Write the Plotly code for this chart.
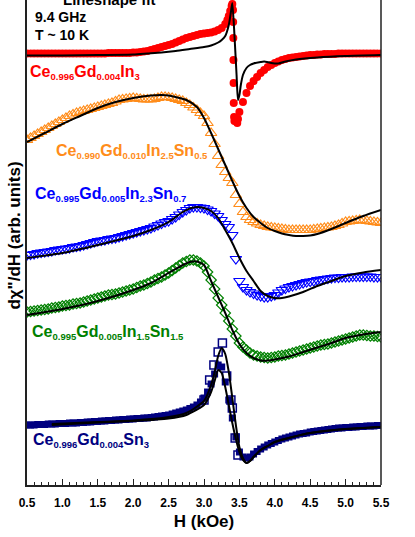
import plotly.graph_objects as go

# field sweep (kOe) shared by the dense data sets
field = [0.50, 0.55, 0.60, 0.65, 0.70, 0.75, 0.80, 0.85, 0.90, 0.95,
         1.00, 1.05, 1.10, 1.15, 1.20, 1.25, 1.30, 1.35, 1.40, 1.45,
         1.50, 1.55, 1.60, 1.65, 1.70, 1.75, 1.80, 1.85, 1.90, 1.95,
         2.00, 2.05, 2.10, 2.15, 2.20, 2.25, 2.30, 2.35, 2.40, 2.45,
         2.50, 2.55, 2.60, 2.65, 2.70, 2.75, 2.80, 2.85, 2.90, 2.95,
         3.00, 3.05, 3.10, 3.15, 3.20, 3.25, 3.30, 3.35, 3.40, 3.45,
         3.50, 3.55, 3.60, 3.65, 3.70, 3.75, 3.80, 3.85, 3.90, 3.95,
         4.00, 4.05, 4.10, 4.15, 4.20, 4.25, 4.30, 4.35, 4.40, 4.45,
         4.50, 4.55, 4.60, 4.65, 4.70, 4.75, 4.80, 4.85, 4.90, 4.95,
         5.00, 5.05, 5.10, 5.15, 5.20, 5.25, 5.30, 5.35, 5.40, 5.45,
         5.50]

# measured dX''/dH, vertically offset (arb. units)
in3 = [431.5, 431.5, 431.5, 431.5, 431.5, 431.5, 431.5, 431.5, 431.5, 431.5,
       431.5, 431.5, 431.5, 431.5, 431.5, 431.5, 431.5, 431.5, 431.5, 431.5,
       431.5, 431.5, 431.5, 432, 432, 432, 432, 432, 432, 432,
       432.5, 432.5, 433, 433.5, 434, 435, 436, 437, 438, 439,
       440, 441, 442.5, 444, 445.5, 447, 448, 449, 450, 451,
       451.5, 452, 452.5, 453.5, 455, 457, 461, 469, 481, 364,
       373, 383, 392, 399, 404, 408, 412, 415, 418, 420,
       422, 423.5, 425, 426, 427, 427.5, 428, 428.5, 429, 429.5,
       430, 430, 430.5, 430.5, 431, 431, 431, 431, 431.5, 431.5,
       431.5, 431.5, 431.5, 431.5, 431.5, 431.5, 431.5, 431.5, 431.5, 431.5,
       431.5]
in3_jump_h = [3.33, 3.37, 3.39, 3.41, 3.412, 3.414, 3.416, 3.418, 3.42, 3.425, 3.43, 3.47, 3.48]
in3_jump = [465, 474, 479, 475, 463, 447, 425, 402, 382, 368, 364, 362, 366]

sn05 = [345, 347, 349, 351, 353, 355, 357, 359, 361, 363,
        365, 367, 369, 370.5, 372, 373, 374, 375, 376, 377,
        378, 379, 380, 381, 382, 383.5, 385, 385.5, 386, 386.5,
        387, 386.5, 386, 385.5, 385.5, 385.5, 386, 387, 388, 388,
        387.5, 387, 386, 385, 384, 382, 380, 377.5, 375, 372,
        369, 362, 352, 341, 329, 320, 313, 307, 302, 290,
        281, 273, 268, 265, 263, 261.5, 260, 259, 258, 257.5,
        257, 256.5, 256, 255.5, 255, 255, 255, 255, 255, 255,
        255, 255.5, 256, 256.5, 257, 257.5, 258, 259, 260, 261.5,
        263, 263.5, 264, 264.5, 265, 264.5, 264, 263.5, 263, 262.5,
        262]

sn07 = [230, 230.5, 231, 232, 232.5, 233, 233.5, 234, 235, 235.5,
        236, 236.5, 237, 238, 238.5, 239, 240, 241, 242, 243,
        244, 244.5, 245, 246, 246.5, 247, 248, 249, 250, 251,
        252, 253, 254, 255, 256, 257, 258.5, 260, 261.5, 263,
        264, 266, 268, 270.5, 273, 275, 277, 278, 278, 277.5,
        277, 275.5, 274, 271.5, 269, 265, 261, 258, 250, 226,
        204, 198, 195, 193, 191.5, 190, 189, 188, 188, 189,
        190, 192.5, 195, 196.5, 198, 199, 200, 201, 202, 203,
        203.5, 204, 205, 205.5, 206, 206.5, 207, 207.5, 207.5, 208,
        208, 208, 208.5, 208.5, 208.5, 208.5, 208.5, 208.5, 208, 208,
        208]

sn15 = [173, 173.5, 174, 174.5, 175, 175.5, 176, 177, 177.5, 178,
        179, 179.5, 180, 181, 181.5, 182, 183, 184, 185, 186,
        187, 188, 189, 190, 190.5, 191, 192, 193, 194, 195,
        196, 197.5, 199, 200, 201.5, 203, 205, 206.5, 208, 210,
        212, 214.5, 217, 219.5, 222, 223.5, 225, 225, 224, 222,
        219, 213, 205, 196, 187, 180, 172, 164, 156, 149,
        142, 138, 135, 132, 130, 129, 128, 127.5, 127, 127.5,
        128, 129, 129.5, 130, 131, 132, 133, 134, 135, 136,
        137, 138, 139, 140, 140.5, 141, 142, 143, 144, 145,
        146, 147, 148, 149, 150, 150, 149.5, 149, 149, 148.5,
        148]

sn3 = [60, 60, 60, 60.5, 60.5, 60.5, 61, 61, 61, 61.5,
       61.5, 61.5, 62, 62, 62, 62.5, 62.5, 63, 63, 63.5,
       63.5, 64, 64, 64.5, 64.5, 65, 65, 65.5, 65.5, 66,
       66, 66.5, 66.5, 67, 67, 67.5, 68, 68.5, 69, 69.5,
       70, 71, 72, 73, 74, 75, 76.5, 78, 80, 83,
       87, 93, 101, 111, 120, 118, 103, 85, 67, 48,
       33, 28, 27, 28, 31, 33.5, 36, 38, 40, 41.5,
       43, 44.5, 46, 47, 48, 49, 50, 51, 51.5, 52,
       53, 53.5, 54, 54.5, 55, 55.5, 56, 56.5, 57, 57,
       57.5, 57.5, 58, 58, 58.5, 58.5, 59, 59, 59, 59.5,
       59.5]
sn3_open_h = [3.00, 3.08, 3.14, 3.20, 3.26, 3.32, 3.38, 3.40, 3.44, 3.48]
sn3_open = [85, 105, 120, 133, 142, 109, 85, 77, 47, 30]

# lineshape fits
fit_in3_h = [0.5, 1.0, 1.5, 2.0, 2.2, 2.4, 2.6, 2.8, 3.0, 3.1, 3.2, 3.25, 3.3, 3.35, 3.38,
             3.40, 3.43, 3.46, 3.48, 3.50, 3.52, 3.55, 3.60, 3.65, 3.70, 3.80, 3.85, 3.95,
             4.05, 4.15, 4.30, 4.60, 5.0, 5.5]
fit_in3 = [429.5, 429.5, 430, 430.5, 431.5, 432.5, 434, 436, 438, 439.5, 442.5, 445, 449, 460, 473,
           482, 450, 410, 385, 390, 400, 410, 417, 420, 421.5, 423, 423.5, 422,
           421.5, 423.5, 425.5, 427.5, 429, 430]

fit_sn05_h = [0.5, 0.75, 1.0, 1.25, 1.5, 1.75, 2.0, 2.25, 2.4, 2.5, 2.75, 2.9, 3.0, 3.1, 3.2,
              3.3, 3.4, 3.5, 3.6, 3.7, 3.8, 3.9, 4.0, 4.1, 4.2, 4.3, 4.4, 4.5, 4.6, 4.8,
              5.0, 5.25, 5.5]
fit_sn05 = [343, 352, 361, 369, 377, 383, 387, 389.5, 390, 389.5, 385, 378, 367, 352, 336,
            320, 304, 289, 277, 268, 262, 257, 254, 251.5, 250, 249, 249, 249.5, 251, 256,
            262, 269, 275]

fit_sn07_h = [0.5, 1.0, 1.5, 2.0, 2.25, 2.5, 2.7, 2.8, 2.9, 3.0, 3.1, 3.2, 3.3, 3.4, 3.5,
              3.6, 3.7, 3.8, 3.9, 4.0, 4.1, 4.2, 4.4, 4.6, 4.8, 5.0, 5.25, 5.5]
fit_sn07 = [227, 232, 240, 249, 255, 263, 273, 276.5, 278, 277, 274, 267, 255, 242, 227,
            214, 204, 194, 189, 187, 187, 188.5, 193, 199, 204, 209, 212.5, 215]

fit_sn15_h = [0.5, 1.0, 1.5, 2.0, 2.25, 2.5, 2.7, 2.8, 2.9, 3.0, 3.1, 3.2, 3.3, 3.4, 3.5,
              3.6, 3.7, 3.8, 3.9, 4.0, 4.2, 4.4, 4.6, 4.8, 5.0, 5.25, 5.5]
fit_sn15 = [170, 176, 184, 195, 202, 212, 220, 223, 223.5, 220, 204, 188, 172, 155, 141,
            132, 127, 124.5, 124.5, 125.5, 128.5, 133, 137.5, 142, 147, 150.5, 153]

fit_sn3_h = [0.85, 1.5, 2.0, 2.5, 2.75, 3.0, 3.1, 3.15, 3.2, 3.25, 3.3, 3.35, 3.4, 3.45, 3.5,
             3.55, 3.6, 3.65, 3.7, 3.8, 3.9, 4.0, 4.25, 4.5, 5.0, 5.5]
fit_sn3_a = [61, 63, 64.5, 68, 72, 84, 100, 113, 129, 137, 131, 113, 87, 60, 38,
             27, 22, 24, 28, 35, 39, 43, 48, 52, 56, 58]
fit_sn3_b = [60, 62.5, 64, 66.5, 70, 80, 93, 104, 115, 112, 98, 80, 62, 46, 33,
             25, 22, 24, 28, 35, 39, 43, 48, 52, 56, 58]

# compositions: (element, subscript) pairs
compositions = [[("Ce", "0.996"), ("Gd", "0.004"), ("In", "3")],
                [("Ce", "0.990"), ("Gd", "0.010"), ("In", "2.5"), ("Sn", "0.5")],
                [("Ce", "0.995"), ("Gd", "0.005"), ("In", "2.3"), ("Sn", "0.7")],
                [("Ce", "0.995"), ("Gd", "0.005"), ("In", "1.5"), ("Sn", "1.5")],
                [("Ce", "0.996"), ("Gd", "0.004"), ("Sn", "3")]]
colors = ["#FF0000", "#FF8C1A", "#0000FF", "#008000", "#000080"]

FONT = "Liberation Sans, Arial, sans-serif"


def formula(parts):
    return "".join(f"{el}<sub><span style='font-size:9.5px'>{n}</span></sub>" for el, n in parts)


in3_h_all = field + in3_jump_h
in3_all = in3 + in3_jump

fig = go.Figure()
fig.add_trace(go.Scatter(x=in3_h_all, y=in3_all, mode="markers",
                         marker=dict(symbol="circle", size=8, color=colors[0])))
fig.add_trace(go.Scatter(x=field, y=sn05, mode="markers",
                         marker=dict(symbol="triangle-up-open", size=10, color=colors[1],
                                     line=dict(width=1.2))))
fig.add_trace(go.Scatter(x=field, y=sn07, mode="markers",
                         marker=dict(symbol="triangle-down-open", size=10, color=colors[2],
                                     line=dict(width=1.2))))
fig.add_trace(go.Scatter(x=field, y=sn15, mode="markers",
                         marker=dict(symbol="diamond-open", size=8, color=colors[3],
                                     line=dict(width=1.2))))
fig.add_trace(go.Scatter(x=field, y=sn3, mode="markers",
                         marker=dict(symbol="square", size=7, color=colors[4])))
fig.add_trace(go.Scatter(x=sn3_open_h, y=sn3_open, mode="markers",
                         marker=dict(symbol="square-open", size=8, color=colors[4],
                                     line=dict(width=1.5))))

for fx, fy in [(fit_in3_h, fit_in3), (fit_sn05_h, fit_sn05), (fit_sn07_h, fit_sn07),
               (fit_sn15_h, fit_sn15), (fit_sn3_h, fit_sn3_a), (fit_sn3_h, fit_sn3_b)]:
    fig.add_trace(go.Scatter(x=fx, y=fy, mode="lines",
                             line=dict(color="black", width=2, shape="spline", smoothing=0.6)))

# sample labels: (left edge in kOe, vertical position)
label_pos = [(0.51, 413), (0.875, 334), (0.585, 291), (0.54, 153), (0.55, 45)]
for parts, col, (lx, ly) in zip(compositions, colors, label_pos):
    fig.add_annotation(x=lx, y=ly, xref="x", yref="y", text=formula(parts), showarrow=False,
                       xanchor="left", yanchor="middle",
                       font=dict(family=FONT, size=16, color=col, weight="bold"))

for text, ly in [("9.4 GHz", 468), ("T ~ 10 K", 450)]:
    fig.add_annotation(x=0.585, y=ly, xref="x", yref="y", text=text, showarrow=False,
                       xanchor="left", yanchor="middle",
                       font=dict(family=FONT, size=14, color="black", weight="bold"))
fig.add_annotation(x=1.67, y=485, xref="x", yref="y", text="Lineshape fit", showarrow=False,
                   xanchor="center", yanchor="middle", yshift=1,
                   font=dict(family=FONT, size=15, color="black", weight="bold"))
fig.add_annotation(x=-0.038, y=249, xref="paper", yref="y", text="d\u03c7\"/dH (arb. units)",
                   showarrow=False, textangle=-90, xanchor="center", yanchor="middle",
                   font=dict(family=FONT, size=17, color="black", weight="bold"))

# right border (no top border in the original)
fig.add_shape(type="line", xref="paper", yref="paper", x0=1, x1=1, y0=0, y1=1,
              line=dict(color="#222", width=1.5))

fig.update_layout(
    width=415, height=537, template="none", showlegend=False,
    margin=dict(l=27, r=34, t=0, b=52, autoexpand=False),
    plot_bgcolor="white", paper_bgcolor="white",
    xaxis=dict(range=[0.5, 5.5], tick0=0.5, dtick=0.5, tickformat=".1f", automargin=False,
               ticks="inside", ticklen=6, tickwidth=1, tickcolor="#222", ticklabelstandoff=6,
               minor=dict(ticks="inside", ticklen=3, dtick=0.1, tick0=0.5, tickcolor="#222"),
               showline=True, linecolor="#222", linewidth=1.5, showgrid=False, zeroline=False,
               tickfont=dict(family=FONT, size=12, color="black", weight="bold"),
               title=dict(text="H (kOe)", standoff=6,
                          font=dict(family=FONT, size=17, color="black", weight="bold"))),
    yaxis=dict(range=[0, 485], showticklabels=False, ticks="", showgrid=False, automargin=False,
               zeroline=False, showline=True, linecolor="#222", linewidth=1.5),
)

# page body margin off so the figure sits at the window corner
fig.write_html("out.html", config={"displayModeBar": False},
               post_script="document.body.style.margin='0';")
